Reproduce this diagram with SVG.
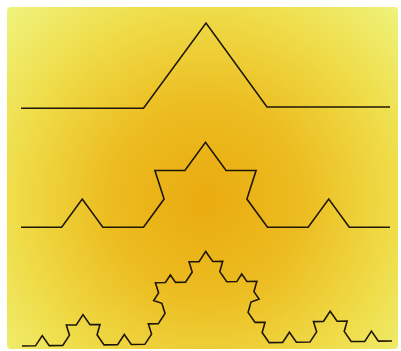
<svg xmlns="http://www.w3.org/2000/svg" width="401" height="351" viewBox="0 0 401 351">
<defs>
<radialGradient id="bg" gradientUnits="userSpaceOnUse" cx="205" cy="200" r="270">
<stop offset="0" stop-color="#E9AB10"/>
<stop offset="0.35" stop-color="#ECBC20"/>
<stop offset="0.7" stop-color="#EFDC48"/>
<stop offset="1" stop-color="#EFF27A"/>
</radialGradient>
<style>
.k{fill:none;stroke:#1e1608;stroke-width:1.6;stroke-linejoin:miter;stroke-linecap:butt}
</style>
</defs>
<rect x="0" y="0" width="401" height="351" fill="#ffffff"/>
<rect x="7" y="7" width="391" height="342" rx="4" fill="url(#bg)"/>
<g id="koch1">
<path class="k" d="M21,108.3 L143.5,108.3 L206,23 L267,107 L390,107"/>
</g>
<g id="koch2">
<path class="k" d="M21,227.3 h40.67 l20.58,-28.23 l20.58,28.23 h40.67 l20.58,-28.23 l-9.173,-28.566 h30.003 l20.58,-28.23 l20.58,28.23 h30.003 l-9.173,28.566 l20.58,28.23 h40.67 l20.58,-28.23 l20.58,28.23 h40.67"/>
</g>
<g id="koch3" transform="translate(22,346) rotate(-0.78)">
<path class="k" d="M0,0
h13.54 l6.852,-10.149 l6.852,10.149 h13.54
l6.852,-10.149 l-3.054,-10.27 h9.988 l6.852,-10.149
l6.852,10.149 h9.988 l-3.054,10.27 l6.852,10.149
h13.54 l6.852,-10.149 l6.852,10.149 h13.54
l6.852,-10.149 l-3.054,-10.27 h9.988 l6.852,-10.149
l-3.054,-10.27 l-8.145,-2.908 l5.054,-7.486 l-3.054,-10.27
h9.988 l5.054,-7.486 l5.054,7.486 h9.988
l6.852,-10.149 l-3.054,-10.27 h9.988 l6.852,-10.149
l6.852,10.149 h9.988 l-3.054,10.27 l6.852,10.149
h9.988 l5.054,-7.486 l5.054,7.486 h9.988
l-3.054,10.27 l5.054,7.486 l-8.145,2.908 l-3.054,10.27
l6.852,10.149 h9.988 l-3.054,10.27 l6.852,10.149
h13.54 l6.852,-10.149 l6.852,10.149 h13.54
l6.852,-10.149 l-3.054,-10.27 h9.988 l6.852,-10.149
l6.852,10.149 h9.988 l-3.054,10.27 l6.852,10.149
h13.54 l6.852,-10.149 l6.852,10.149 h13.54"/>
</g>
</svg>
